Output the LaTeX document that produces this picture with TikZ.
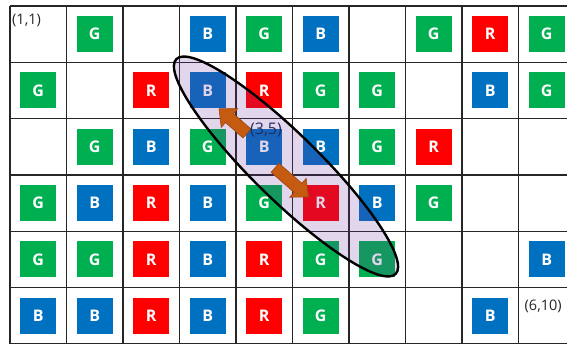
\documentclass[tikz,border=0pt]{standalone}
\usepackage{fontspec}
\setmainfont{Open Sans}
\usetikzlibrary{calc,shapes.geometric}
\definecolor{colG}{HTML}{00B050}
\definecolor{colB}{HTML}{0070C0}
\definecolor{colR}{HTML}{FF0000}
\definecolor{colP}{HTML}{7030A0}
\definecolor{colO}{HTML}{C55A11}
\definecolor{colOd}{HTML}{9A4510}
\definecolor{colN}{HTML}{1F2D5C}
\tikzset{
  gridline/.style={draw=black!85, line width=1.2pt},
  sq/.style={minimum size=36pt, inner sep=0pt, text=white, font=\fontsize{16}{16}\selectfont\bfseries},
  coordlabel/.style={inner sep=0pt, anchor=base west, font=\fontsize{14.5}{14.5}\selectfont, text=black!85},
  blockarrow/.style={fill=colO, draw=colOd, line width=0.6pt, line join=miter},
  ell/.style={ellipse, draw=black, line width=2.4pt, fill=colP, fill opacity=0.2, inner sep=0pt}
}
\newcommand\myblockarrow[2]{%
  \coordinate (#2-base) at ($(#2)!14pt!(#1)$);
  \filldraw[blockarrow]
    ($(#1)!6pt!90:(#2)$) -- ($(#2-base)!6pt!90:(#2)$) -- ($(#2-base)!12.5pt!90:(#2)$)
    -- (#2) -- ($(#2-base)!12.5pt!-90:(#2)$) -- ($(#2-base)!6pt!-90:(#2)$)
    -- ($(#1)!6pt!-90:(#2)$) -- cycle;
}
\begin{document}
\begin{tikzpicture}[x=1pt,y=-1pt]
\useasboundingbox (0,0) rectangle (567,345);
\clip (0,0) rectangle (567,345);
% grid
\foreach \i in {0,...,10}
  \draw[gridline] ({10+56.5*\i},6) -- ({10+56.5*\i},343.8);
\foreach \j in {0,...,6}
  \draw[gridline] (10,{6+56.3*\j}) -- (576,{6+56.3*\j});
% squares
\foreach \r/\c/\l in {
  1/2/G, 1/4/B, 1/5/G, 1/6/B, 1/8/G, 1/9/R, 1/10/G,
  2/1/G, 2/3/R, 2/4/B, 2/5/R, 2/6/G, 2/7/G, 2/9/B, 2/10/G,
  3/2/G, 3/3/B, 3/4/G, 3/5/B, 3/6/B, 3/7/G, 3/8/R,
  4/1/G, 4/2/B, 4/3/R, 4/4/B, 4/5/G, 4/6/R, 4/7/B, 4/8/G,
  5/1/G, 5/2/G, 5/3/R, 5/4/B, 5/5/R, 5/6/G, 5/7/G, 5/10/B,
  6/1/B, 6/2/B, 6/3/R, 6/4/B, 6/5/R, 6/6/G, 6/9/B}
  \node[sq, fill=col\l] (s-\r-\c) at ({10+56.5*(\c-0.5)},{6+56.3*(\r-0.5)}) {\l};
% corner labels
\node[coordlabel] (lab11) at (12,24.3) {(1,1)};
\node[coordlabel] (lab610) at (524.5,310) {(6,10)};
% ellipse
\node[ell, minimum width=307pt, minimum height=66pt, rotate=-44.4] (oval) at (286,166.5) {};
% arrows
\coordinate (t1) at (247,133.5);
\coordinate (h1) at (219,108.8);
\coordinate (t2) at (275,167.8);
\coordinate (h2) at (308.5,197);
\myblockarrow{t1}{h1}
\myblockarrow{t2}{h2}
% center label
\node[inner sep=0pt, anchor=base, text=colN, font=\fontsize{16}{16}\selectfont] (lab35) at (266,134.5) {(3,5)};
\end{tikzpicture}
\end{document}
